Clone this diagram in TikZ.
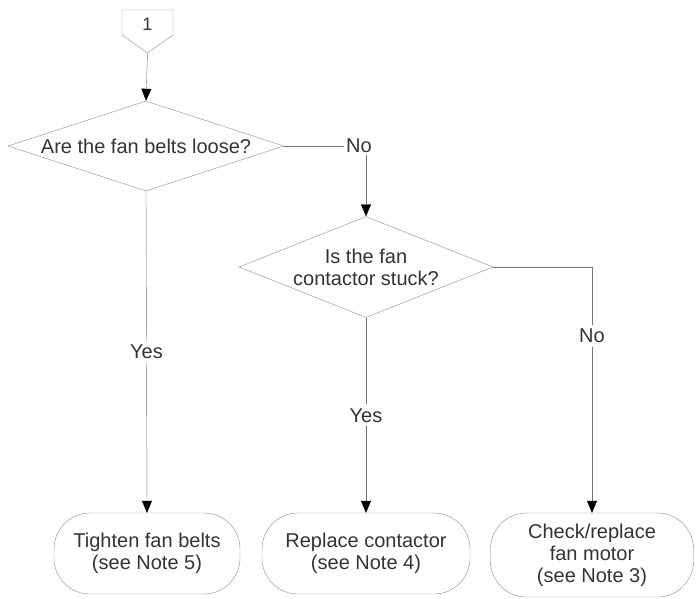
\documentclass[tikz,border=0pt]{standalone}
\usepackage{fontspec}
\setmainfont{Liberation Sans}
\usetikzlibrary{shapes.geometric}
\usetikzlibrary{arrows.meta}

\begin{document}
\begin{tikzpicture}[x=1pt,y=-1pt,
        every node/.style={font=\fontsize{20}{22}\selectfont, text=black!80},
        decision/.style={diamond, draw=black!45, inner sep=0pt, align=center},
        endbox/.style={rectangle, rounded corners=36pt, draw=black!45, inner sep=0pt, align=center},
        flow/.style={draw=black!55, -{Triangle[width=10pt,length=12pt,black]}},
        lbl/.style={fill=white, inner sep=4pt}]
    \useasboundingbox (0,0) rectangle (696,598);

    % off-page connector
    \draw[black!45] (122,10) -- (173,10) -- (173,35) -- (147.5,53) -- (122,35) -- cycle;
    \node[font=\fontsize{18}{20}\selectfont] (c1) at (147.5,24) {1};
    \coordinate (c1tip) at (147.5,53);

    \node[decision, aspect=3.07, minimum width=276pt, minimum height=90pt] (q1) at (146,146) {Are the fan belts loose?};
    \node[decision, aspect=2.51, minimum width=254pt, minimum height=101pt] (q2) at (366,267) {Is the fan\\contactor stuck?};
    \node[inner sep=2pt] (no1) at (359,146) {No};

    \node[endbox, minimum width=186pt, minimum height=81pt] (t1) at (147,553.5) {Tighten fan belts\\(see Note 5)};
    \node[endbox, minimum width=208pt, minimum height=81pt] (t2) at (366,553.5) {Replace contactor\\(see Note 4)};
    \node[endbox, minimum width=203pt, minimum height=84pt] (t3) at (592,555) {Check/replace\\fan motor\\(see Note 3)};

    \draw[flow] (c1tip) -- (q1.north);
    \draw[draw=black!55] (q1.east) -- (no1.west);
    \draw[flow] (q2.north |- no1.south) -- (q2.north);
    \draw[flow] (q1.south) -- node[lbl] {Yes} (t1.north);
    \draw[flow] (q2.south) -- node[lbl] {Yes} (t2.north);
    \draw[flow] (q2.east) -| node[lbl, pos=0.64] {No} (t3.north);
\end{tikzpicture}
\end{document}
